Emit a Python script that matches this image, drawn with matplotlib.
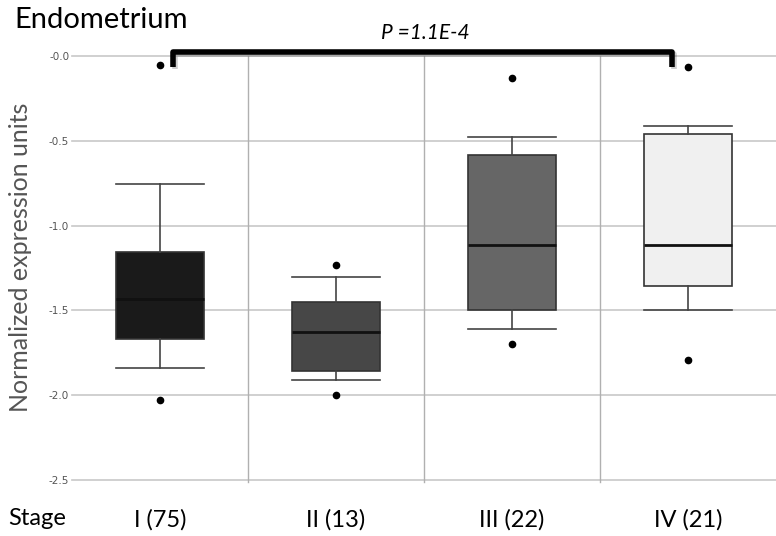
import matplotlib.pyplot as plt
import matplotlib.patheffects as pe

# box statistics
stages = ['I (75)', 'II (13)', 'III (22)', 'IV (21)']
whisker_hi = [-0.755, -1.305, -0.48, -0.41]
q3 = [-1.155, -1.45, -0.585, -0.46]
median = [-1.43, -1.63, -1.115, -1.115]
q1 = [-1.67, -1.86, -1.50, -1.355]
whisker_lo = [-1.84, -1.91, -1.61, -1.50]
outliers = [[-0.055, -2.03], [-1.235, -2.0], [-0.13, -1.70], [-0.065, -1.79]]
box_colors = ['#1a1a1a', '#474747', '#666666', '#f0f0f0']
yticks = [0.0, -0.5, -1.0, -1.5, -2.0, -2.5]
ytick_labels = ['-0.0', '-0.5', '-1.0', '-1.5', '-2.0', '-2.5']
p_text = 'P =1.1E-4'

plt.rcParams['font.family'] = ['Lato', 'DejaVu Sans']

fig = plt.figure(figsize=(7.76, 5.36), dpi=100)
ax = fig.add_axes([0.0928, 0.1045, 0.9072, 0.791])

stats = []
for i in range(len(stages)):
    stats.append({
        'med': median[i], 'q1': q1[i], 'q3': q3[i],
        'whislo': whisker_lo[i], 'whishi': whisker_hi[i],
        'fliers': outliers[i], 'label': stages[i],
    })

bp = ax.bxp(stats, positions=[1, 2, 3, 4], widths=0.5, patch_artist=True,
            showfliers=True,
            boxprops=dict(edgecolor='#333333', linewidth=1.2),
            medianprops=dict(color='#111111', linewidth=2),
            whiskerprops=dict(color='#444444', linewidth=1.2),
            capprops=dict(color='#444444', linewidth=1.2),
            capwidths=0.5,
            flierprops=dict(marker='o', markerfacecolor='black',
                            markeredgecolor='black', markersize=4.5))
for patch, c in zip(bp['boxes'], box_colors):
    patch.set_facecolor(c)

ax.set_xlim(0.5, 4.5)
ax.set_ylim(-2.5, 0.0)
ax.set_yticks(yticks)
ax.set_yticklabels(ytick_labels, fontsize=7.5, color='#555555',
                   family='DejaVu Sans')
ax.set_xticks([])
ax.tick_params(axis='y', length=0, pad=2)
for s in ax.spines.values():
    s.set_visible(False)

for y in yticks:
    ax.axhline(y, color='#c8c8c8', linewidth=1.2, zorder=0, clip_on=False)
for x in [1.5, 2.5, 3.5]:
    ax.plot([x, x], [0.0, -2.51], color='#b0b0b0', linewidth=1,
            zorder=0, clip_on=False)

ax.set_ylabel('Normalized expression units', fontsize=18, color='#555555',
              fontweight='normal')
ax.yaxis.set_label_coords(-0.057, 0.526)

# bracket for the p-value
ax.plot([1.074, 1.074, 3.91, 3.91], [-0.065, 0.024, 0.024, -0.065],
        color='black', linewidth=4, solid_joinstyle='round',
        solid_capstyle='butt', clip_on=False, zorder=5,
        path_effects=[pe.SimpleLineShadow(offset=(1.5, -1.5), alpha=0.2),
                      pe.Normal()])
ax.text(2.51, 0.135, p_text, fontsize=15, style='italic',
        ha='center', va='center')

fig.text(0.018, 0.962, 'Endometrium', fontsize=21, va='center')
fig.text(0.010, 0.032, 'Stage', fontsize=17, va='center')
xt = ax.get_xaxis_transform()
for i, s in enumerate(stages):
    ax.text(i + 1, -0.093, s, fontsize=17, ha='center', va='center',
            transform=xt)

plt.savefig('out.png', dpi=100)
